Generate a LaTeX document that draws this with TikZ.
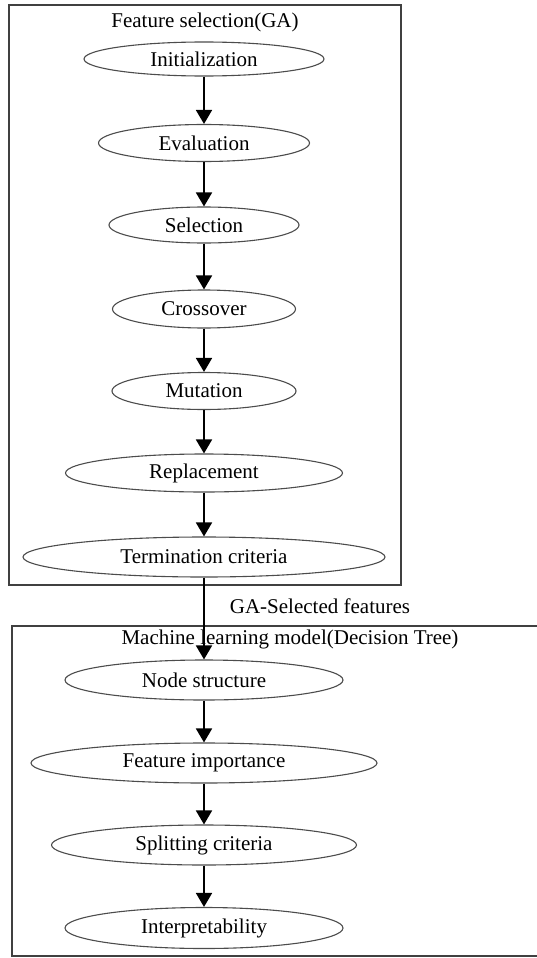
\documentclass[tikz,border=0pt]{standalone}
\usepackage{fontspec}
\setmainfont{Liberation Serif}
\usetikzlibrary{arrows.meta,shapes.geometric}
\begin{document}
\begin{tikzpicture}[x=1pt,y=-1pt,
  every node/.style={font=\fontsize{21}{25}\selectfont},
  oval/.style={ellipse,draw=black!70,line width=1.1pt,inner sep=0pt,fill=white},
  frame/.style={draw=black!75,line width=1.8pt},
  flow/.style={draw=black,line width=1.8pt,-{Triangle[length=14pt,width=16pt]}},
  lbl/.style={inner sep=0pt,anchor=center}]
\useasboundingbox (0,0) rectangle (537,958);
% frames
\draw[frame] (9,5) rectangle (401,585);
\draw[frame] (537,626) -- (12,626) -- (12,956) -- (537,956);
% titles
\node[lbl] (t1) at (205,22) {Feature selection(GA)};
\node[lbl] (gasf) at (320,606) {GA-Selected features};
\node[lbl] (t2) at (290,639) {Machine learning model(Decision Tree)};
% GA ovals
\node[oval,minimum width=240,minimum height=34] (init) at (204,59) {Initialization};
\node[oval,minimum width=211,minimum height=37] (eval) at (204,143) {Evaluation};
\node[oval,minimum width=190,minimum height=36] (sel) at (204,225) {Selection};
\node[oval,minimum width=183,minimum height=38] (cross) at (204,309) {Crossover};
\node[oval,minimum width=184,minimum height=37] (mut) at (204,391) {Mutation};
\node[oval,minimum width=277,minimum height=38] (rep) at (204,473) {Replacement};
\node[oval,minimum width=362,minimum height=40] (term) at (204,557) {Termination criteria};
% DT ovals
\node[oval,minimum width=278,minimum height=40] (ns) at (204,680) {Node structure};
\node[oval,minimum width=346,minimum height=40] (fi) at (204,763) {Feature importance};
\node[oval,minimum width=305,minimum height=40] (sc) at (204,845) {Splitting criteria};
\node[oval,minimum width=278,minimum height=41] (ip) at (204,928) {Interpretability};
% arrows
\draw[flow] (init) -- (eval);
\draw[flow] (eval) -- (sel);
\draw[flow] (sel) -- (cross);
\draw[flow] (cross) -- (mut);
\draw[flow] (mut) -- (rep);
\draw[flow] (rep) -- (term);
\draw[flow] (term) -- (ns);
\draw[flow] (ns) -- (fi);
\draw[flow] (fi) -- (sc);
\draw[flow] (sc) -- (ip);
\end{tikzpicture}
\end{document}
